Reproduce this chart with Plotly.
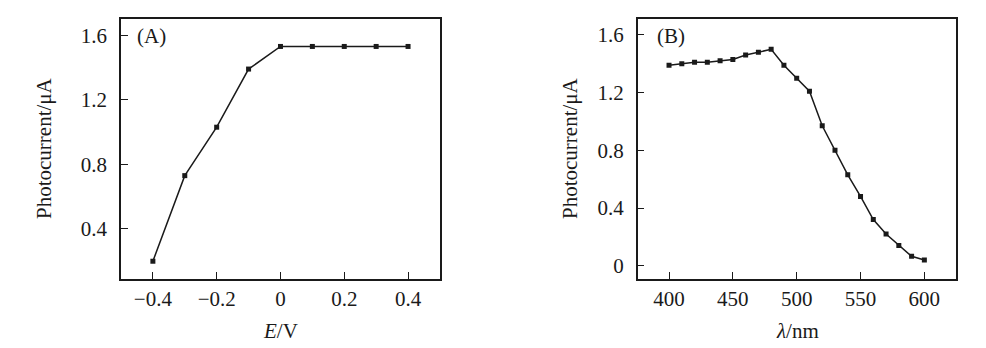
import plotly.graph_objects as go

# Panel A data
potential_V = [-0.4, -0.3, -0.2, -0.1, 0.0, 0.1, 0.2, 0.3, 0.4]
photocurrent_A = [0.20, 0.73, 1.03, 1.39, 1.53, 1.53, 1.53, 1.53, 1.53]

# Panel B data
wavelength_nm = [400, 410, 420, 430, 440, 450, 460, 470, 480, 490, 500,
                 510, 520, 530, 540, 550, 560, 570, 580, 590, 600]
photocurrent_B = [1.39, 1.40, 1.41, 1.41, 1.42, 1.43, 1.46, 1.48, 1.50, 1.39, 1.30,
                  1.21, 0.97, 0.80, 0.63, 0.48, 0.32, 0.22, 0.14, 0.065, 0.04]

xticks_A = [-0.4, -0.2, 0, 0.2, 0.4]
xticktext_A = ["\u22120.4", "\u22120.2", "0", "0.2", "0.4"]
yticks_A = [0.4, 0.8, 1.2, 1.6]
yticktext_A = ["0.4", "0.8", "1.2", "1.6"]
xticks_B = [400, 450, 500, 550, 600]
yticks_B = [0, 0.4, 0.8, 1.2, 1.6]
yticktext_B = ["0", "0.4", "0.8", "1.2", "1.6"]

FONT = "Liberation Serif"
INK = "#1a1a1a"
FS = 21

fig = go.Figure()
fig.add_trace(go.Scatter(x=potential_V, y=photocurrent_A, mode="lines+markers",
                         line=dict(color=INK, width=1.5),
                         marker=dict(symbol="square", size=5, color=INK),
                         xaxis="x", yaxis="y", showlegend=False))
fig.add_trace(go.Scatter(x=wavelength_nm, y=photocurrent_B, mode="lines+markers",
                         line=dict(color=INK, width=1.5),
                         marker=dict(symbol="square", size=5, color=INK),
                         xaxis="x2", yaxis="y2", showlegend=False))

axis_common = dict(showline=True, linecolor=INK, linewidth=1.5, mirror=True,
                   ticks="inside", ticklen=7, tickwidth=1.2, tickcolor=INK,
                   showgrid=False, zeroline=False,
                   tickfont=dict(family=FONT, size=FS, color=INK))

fig.update_layout(
    width=986, height=348,
    margin=dict(l=0, r=0, t=0, b=0),
    paper_bgcolor="white", plot_bgcolor="white",
    xaxis=dict(domain=[0.1227, 0.4462], range=[-0.5, 0.5], anchor="y",
               tickvals=xticks_A, ticktext=xticktext_A, ticklabelstandoff=0, **axis_common),
    yaxis=dict(domain=[0.1983, 0.9454], range=[0.09, 1.70], anchor="x",
               tickvals=yticks_A, ticktext=yticktext_A, ticklabelstandoff=8, **axis_common),
    xaxis2=dict(domain=[0.6468, 0.9696], range=[375.5, 624.8], anchor="y2",
                tickvals=xticks_B, ticklabelstandoff=0, **axis_common),
    yaxis2=dict(domain=[0.1983, 0.9454], range=[-0.092, 1.71], anchor="x2",
                tickvals=yticks_B, ticktext=yticktext_B, ticklabelstandoff=8, **axis_common),
)

title_font = dict(family=FONT, size=FS, color=INK)
annots = [
    dict(text="(A)", x=135/986, y=1-36/348, xanchor="left"),
    dict(text="(B)", x=655/986, y=1-36/348, xanchor="left"),
    dict(text="<i>E</i>/V", x=280/986, y=1-331/348, xanchor="center"),
    dict(text="<i>λ</i>/nm", x=797/986, y=1-331/348, xanchor="center"),
]
for a in annots:
    fig.add_annotation(text=a["text"], x=a["x"], y=a["y"], xref="paper", yref="paper",
                       showarrow=False, font=title_font, xanchor=a["xanchor"], yanchor="middle")
for xc in (44, 570):
    fig.add_annotation(text="Photocurrent/μA", x=xc/986, y=1-148/348, xref="paper", yref="paper",
                       showarrow=False, font=title_font, textangle=-90,
                       xanchor="center", yanchor="middle")

fig.write_html("out.html")
